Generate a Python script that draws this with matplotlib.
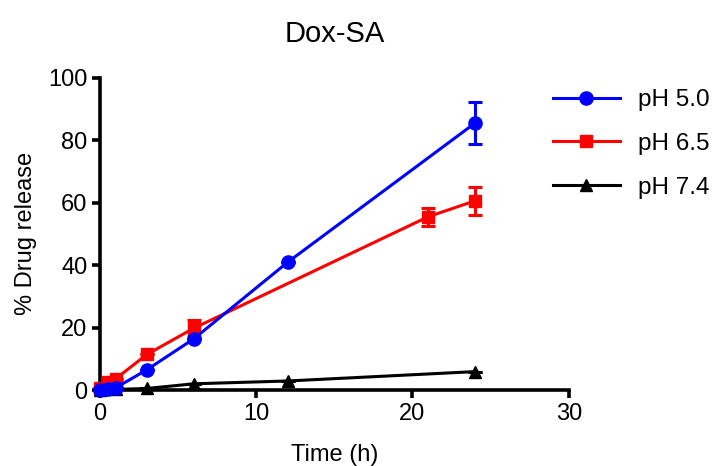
import matplotlib
matplotlib.use('Agg')
import matplotlib.pyplot as plt
from matplotlib.lines import Line2D

plt.rcParams['font.family'] = ['Liberation Sans', 'DejaVu Sans']

# release data (time in h, % released)
t_ph50 = [0, 0.5, 1, 3, 6, 12, 24]
y_ph50 = [0, 0.3, 0.7, 6.5, 16.4, 40.9, 85.5]
e_ph50 = [0, 0, 0, 0, 0, 0, 6.7]

t_ph65 = [0, 0.5, 1, 3, 6, 21, 24]
y_ph65 = [0.5, 2.5, 3.6, 11.4, 19.8, 55.5, 60.6]
e_ph65 = [0, 0, 0, 0, 2.5, 2.9, 4.5]

t_ph74 = [0, 1, 3, 6, 12, 24]
y_ph74 = [0, 0.2, 0.5, 2.0, 2.9, 5.9]
e_ph74 = [0, 0, 0, 0, 0, 0]

labels = ['pH 5.0', 'pH 6.5', 'pH 7.4']
colors = ['#0000ff', '#ff0000', 'black']
markers = ['o', 's', '^']
sizes = [9.5, 8.5, 9]

fig = plt.figure(figsize=(7.16, 4.66), dpi=100)
ax = fig.add_axes([0.1397, 0.163, 0.6546, 0.670])

kw = dict(lw=2.2, capsize=5, capthick=2.2, elinewidth=2.2, clip_on=False)
series = [(t_ph50, y_ph50, e_ph50), (t_ph65, y_ph65, e_ph65), (t_ph74, y_ph74, e_ph74)]
for i, (t, y, e) in enumerate(series):
    ax.errorbar(t, y, yerr=e, color=colors[i], marker=markers[i], ms=sizes[i], zorder=5 - i, **kw)

ax.set_xlim(0, 30)
ax.set_ylim(0, 100)
ax.set_xticks([0, 10, 20, 30])
ax.set_yticks([0, 20, 40, 60, 80, 100])
for s in ['top', 'right']:
    ax.spines[s].set_visible(False)
for s in ['left', 'bottom']:
    ax.spines[s].set_linewidth(2.6)
    ax.spines[s].set_capstyle('projecting')
ax.tick_params(width=2.6, length=6, labelsize=17, pad=3)

ax.set_xlabel('Time (h)', fontsize=17, labelpad=14)
ax.set_ylabel('% Drug release', fontsize=17, labelpad=8)
ax.set_title('Dox-SA', fontsize=21, pad=26)

handles = [Line2D([], [], color=colors[i], marker=markers[i], ms=sizes[i], lw=2.2) for i in range(3)]
fig.legend(handles, labels, loc='upper left', bbox_to_anchor=(0.772, 0.809),
           frameon=False, fontsize=17.5, handlelength=2.75, labelspacing=0.9,
           handletextpad=0.74, borderpad=0, borderaxespad=0)

fig.savefig('out.png', dpi=100)
